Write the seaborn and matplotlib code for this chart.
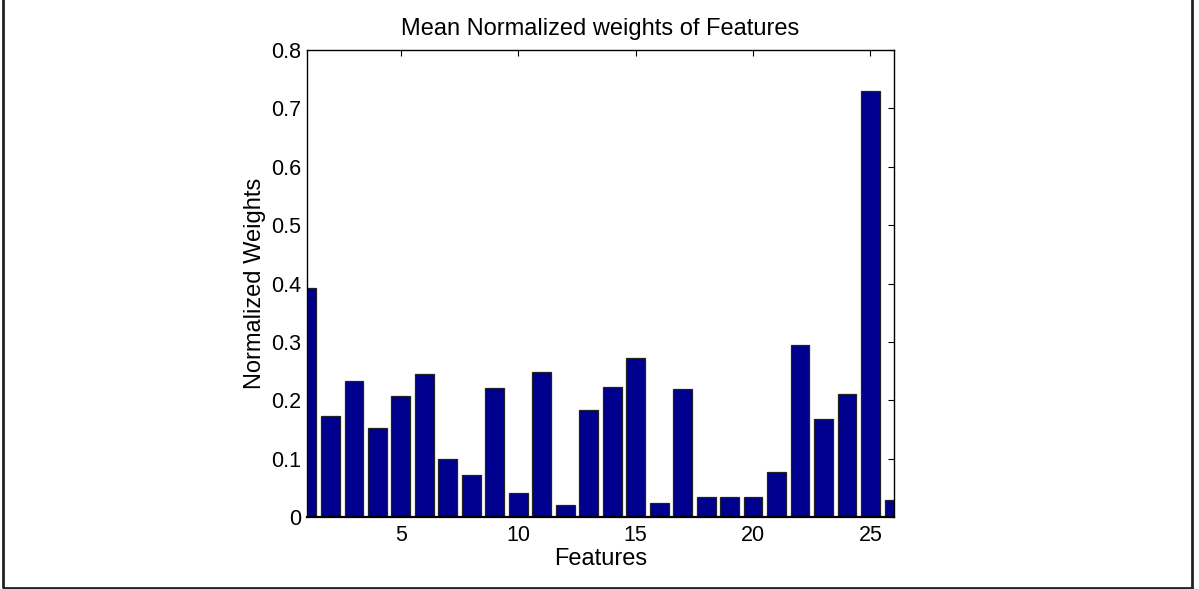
import matplotlib
matplotlib.use("Agg")
import matplotlib.pyplot as plt
from matplotlib.patches import Rectangle
import seaborn as sns
import pandas as pd

# Mean normalized weight of each feature
features = list(range(1, 27))
weights = [0.393, 0.173, 0.233, 0.152, 0.207, 0.245, 0.100, 0.072, 0.221, 0.041,
           0.249, 0.021, 0.183, 0.222, 0.272, 0.024, 0.220, 0.034, 0.034, 0.035,
           0.077, 0.294, 0.168, 0.210, 0.730, 0.029]
x_ticks = [5, 10, 15, 20, 25]
y_ticks = [0, 0.1, 0.2, 0.3, 0.4, 0.5, 0.6, 0.7, 0.8]
y_tick_labels = ["0", "0.1", "0.2", "0.3", "0.4", "0.5", "0.6", "0.7", "0.8"]

df = pd.DataFrame({"feature": features, "weight": weights})

sns.set_style("white")
plt.rcParams["font.family"] = ["Liberation Sans", "DejaVu Sans"]
plt.rcParams["text.color"] = "black"
plt.rcParams["axes.labelcolor"] = "black"

fig = plt.figure(figsize=(11.99, 5.89), dpi=100)
ax = fig.add_axes([0.2560, 0.1222, 0.4896, 0.7929])

sns.barplot(data=df, x="feature", y="weight", native_scale=True, width=0.8,
            color="#00008F", saturation=1, edgecolor="#222222", linewidth=0.9,
            ax=ax)

ax.set_xlim(1, 26)
ax.set_ylim(0, 0.8)
ax.set_xticks(x_ticks)
ax.set_xticklabels([str(t) for t in x_ticks])
ax.set_yticks(y_ticks)
ax.set_yticklabels(y_tick_labels)
ax.tick_params(direction="in", length=4.5, width=0.8, top=True, right=True,
               labelsize=15.5, colors="black")
ax.tick_params(axis="y", pad=4)
ax.tick_params(axis="x", pad=6)
for s in ax.spines.values():
    s.set_visible(True)
    s.set_color("black")
    s.set_linewidth(1.0)
ax.spines["bottom"].set_linewidth(1.6)

ax.set_title("Mean Normalized weights of Features", fontsize=17, pad=11,
             color="black")
ax.set_xlabel("Features", fontsize=17, labelpad=1.5)
ax.set_ylabel("Normalized Weights", fontsize=17, labelpad=4)

# Frame around the figure
fig.patches.append(Rectangle((3 / 1199, 1 / 589), 1189 / 1199, 1.2,
                             transform=fig.transFigure, fill=False,
                             edgecolor="#222222", linewidth=2.0))

fig.savefig("out.png", dpi=100)
